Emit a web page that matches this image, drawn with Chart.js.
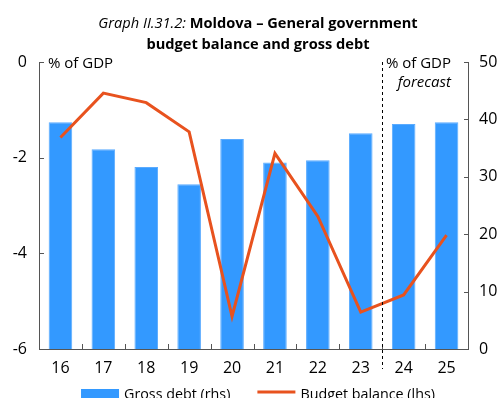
<!DOCTYPE html>
<html>
<head>
<meta charset="utf-8">
<script src="https://cdn.jsdelivr.net/npm/chart.js@4/dist/chart.umd.min.js"></script>
<style>
  html, body { margin: 0; padding: 0; background: #fff; overflow: hidden; }
  #wrap { position: relative; width: 500px; height: 398px; }
</style>
</head>
<body>
<div id="wrap"><canvas id="c" width="500" height="398"></canvas></div>
<script>
// Moldova – general government budget balance and gross debt (% of GDP)
const years = ['16', '17', '18', '19', '20', '21', '22', '23', '24', '25'];
const grossDebt = [39.5, 34.8, 31.7, 28.7, 36.6, 32.5, 32.9, 37.6, 39.2, 39.5];
const budgetBalance = [-1.58, -0.65, -0.85, -1.46, -5.32, -1.91, -3.23, -5.23, -4.87, -3.62];
const firstForecastYear = '24';

const FONT = '"Open Sans", "Noto Sans", sans-serif';
const BLUE = '#3399FF';
const ORANGE = '#E8521E';
const AXIS = '#555555';

// Axis lines, inward tick marks, forecast divider, titles and legend
const decorations = {
  id: 'decorations',
  afterDraw(chart) {
    const { ctx, chartArea: a, scales } = chart;
    const xs = scales.x, yl = scales.y, yr = scales.y1;
    ctx.save();

    // axis frame
    ctx.strokeStyle = AXIS;
    ctx.lineWidth = 1;
    ctx.beginPath();
    ctx.moveTo(a.left + 0.5, a.top); ctx.lineTo(a.left + 0.5, a.bottom + 0.5);
    ctx.lineTo(a.right + 0.5, a.bottom + 0.5);
    ctx.moveTo(a.right + 0.5, a.top); ctx.lineTo(a.right + 0.5, a.bottom);
    // left ticks
    yl.ticks.forEach(t => {
      const y = Math.round(yl.getPixelForValue(t.value)) + 0.5;
      ctx.moveTo(a.left, y); ctx.lineTo(a.left + 5, y);
    });
    // right ticks
    yr.ticks.forEach(t => {
      const y = Math.round(yr.getPixelForValue(t.value)) + 0.5;
      ctx.moveTo(a.right - 4, y); ctx.lineTo(a.right + 1, y);
    });
    // category boundary ticks on the x axis
    for (let i = 1; i < years.length; i++) {
      const x = Math.round((xs.getPixelForValue(i - 1) + xs.getPixelForValue(i)) / 2) + 0.5;
      ctx.moveTo(x, a.bottom); ctx.lineTo(x, a.bottom - 5);
    }
    ctx.stroke();

    // forecast divider
    const fi = years.indexOf(firstForecastYear);
    const dx = Math.round((xs.getPixelForValue(fi - 1) + xs.getPixelForValue(fi)) / 2) + 0.5;
    ctx.strokeStyle = '#000';
    ctx.setLineDash([3, 3]);
    ctx.beginPath();
    ctx.moveTo(dx, a.top); ctx.lineTo(dx, a.bottom + 20);
    ctx.stroke();
    ctx.setLineDash([]);

    // unit labels
    ctx.fillStyle = '#000';
    ctx.textBaseline = 'middle';
    ctx.font = `15px ${FONT}`;
    ctx.textAlign = 'left';
    ctx.fillText('% of GDP', a.left + 9, a.top + 2);
    ctx.textAlign = 'right';
    ctx.fillText('% of GDP', a.right - 17, a.top + 2);
    ctx.font = `italic 15px ${FONT}`;
    ctx.fillText('forecast', a.right - 17, a.top + 21);

    // title
    const cx = 258;
    const p1 = 'Graph II.31.2: ', p2 = 'Moldova – General government';
    ctx.font = `italic 14.6px ${FONT}`;
    const w1 = ctx.measureText(p1).width;
    ctx.font = `bold 14.6px ${FONT}`;
    const w2 = ctx.measureText(p2).width;
    const x0 = cx - (w1 + w2) / 2;
    ctx.textAlign = 'left';
    ctx.font = `italic 14.6px ${FONT}`;
    ctx.fillText(p1, x0, 24);
    ctx.font = `bold 14.6px ${FONT}`;
    ctx.fillText(p2, x0 + w1, 24);
    ctx.textAlign = 'center';
    ctx.fillText('budget balance and gross debt', cx, 45);

    // legend
    ctx.font = `14.3px ${FONT}`;
    const ds = chart.data.datasets;
    const keyW = 38, gapKey = 5, gapItem = 27;
    const widths = ds.map(d => keyW + gapKey + ctx.measureText(d.label).width);
    let x = cx - (widths.reduce((s, w) => s + w, 0) + gapItem * (ds.length - 1)) / 2;
    const ly = 392;
    ds.forEach((d, i) => {
      if (d.type === 'line') {
        ctx.strokeStyle = d.borderColor;
        ctx.lineWidth = 3;
        ctx.beginPath();
        ctx.moveTo(x, ly); ctx.lineTo(x + keyW, ly);
        ctx.stroke();
      } else {
        ctx.fillStyle = d.backgroundColor;
        ctx.fillRect(x, ly - 3, keyW, 14);
      }
      ctx.fillStyle = '#000';
      ctx.textAlign = 'left';
      ctx.fillText(d.label, x + keyW + gapKey, ly + 3);
      x += widths[i] + gapItem;
    });
    ctx.restore();
  }
};

new Chart(document.getElementById('c'), {
  data: {
    labels: years,
    datasets: [
      {
        type: 'bar',
        label: 'Gross debt (rhs)',
        data: grossDebt,
        yAxisID: 'y1',
        backgroundColor: BLUE,
        borderColor: '#5AABFF',
        borderWidth: 1,
        barPercentage: 0.55,
        categoryPercentage: 1,
        order: 2
      },
      {
        type: 'line',
        label: 'Budget balance (lhs)',
        data: budgetBalance,
        yAxisID: 'y',
        borderColor: ORANGE,
        backgroundColor: ORANGE,
        borderWidth: 3,
        pointRadius: 0,
        tension: 0,
        order: 1
      }
    ]
  },
  options: {
    responsive: false,
    animation: false,
    devicePixelRatio: 1,
    layout: { padding: { top: 62, left: 0, right: 0, bottom: 0 } },
    plugins: { legend: { display: false }, title: { display: false }, tooltip: { enabled: false } },
    scales: {
      x: {
        type: 'category',
        offset: true,
        grid: { display: false, drawTicks: false },
        border: { display: false },
        ticks: { color: '#000', font: { family: FONT, size: 16 }, padding: 10, maxRotation: 0 },
        afterFit(s) { s.height = 49; }
      },
      y: {
        position: 'left',
        min: -6, max: 0,
        grid: { display: false, drawTicks: false },
        border: { display: false },
        ticks: { stepSize: 2, color: '#000', font: { family: FONT, size: 16 }, padding: 12 },
        afterFit(s) { s.width = 39; }
      },
      y1: {
        position: 'right',
        min: 0, max: 50,
        grid: { display: false, drawTicks: false },
        border: { display: false },
        ticks: { stepSize: 10, color: '#000', font: { family: FONT, size: 16 }, padding: 11 },
        afterFit(s) { s.width = 32; }
      }
    }
  },
  plugins: [decorations]
});
</script>
</body>
</html>
